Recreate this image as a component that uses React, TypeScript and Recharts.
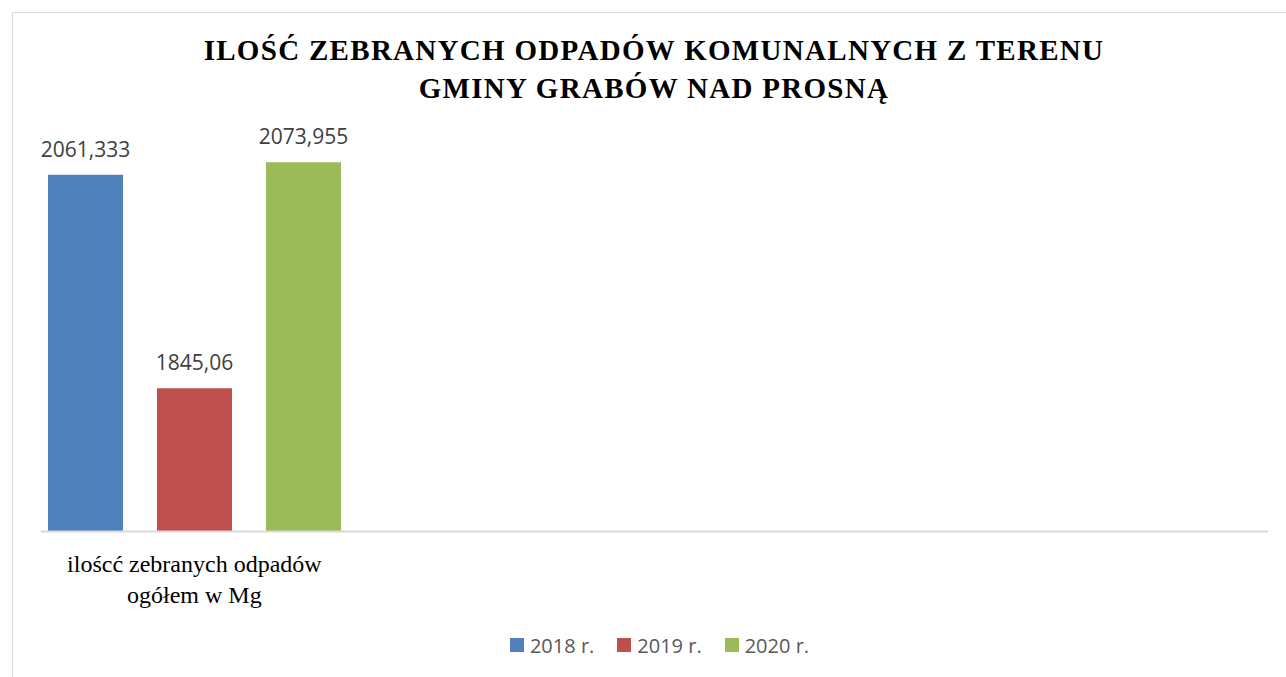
import { BarChart, Bar, XAxis, YAxis, LabelList, Legend } from "recharts";

const categories = ["iloścć zebranych odpadów|ogółem w Mg", "", "", ""];
const seriesNames = ["2018 r.", "2019 r.", "2020 r."];
const values2018 = [2061.333, null, null, null];
const values2019 = [1845.06, null, null, null];
const values2020 = [2073.955, null, null, null];
const COLORS = ["#4F81BD", "#C0504D", "#9BBB59"];

const seriesValues = [values2018, values2019, values2020];

const data = categories.map((name, i) => {
  const row: Record<string, string | number | null> = { name };
  seriesNames.forEach((s, j) => {
    row[s] = seriesValues[j][i];
  });
  return row;
});

const fmt = (v: unknown) =>
  v == null || v === "" ? "" : String(v).replace(".", ",");

const CategoryTick = (props: any) => {
  const { x, y, payload } = props;
  if (!payload.value) return null;
  const lines = String(payload.value).split("|");
  return (
    <text
      x={x}
      y={y}
      textAnchor="middle"
      fill="#000"
      fontFamily="'Liberation Serif', serif"
      fontSize={24}
    >
      {lines.map((l, i) => (
        <tspan key={i} x={x} dy={i === 0 ? 32 : 31}>
          {l}
        </tspan>
      ))}
    </text>
  );
};

const LegendContent = (props: any) => {
  const { payload } = props;
  return (
    <div
      style={{
        display: "flex",
        justifyContent: "center",
        alignItems: "center",
        height: 24,
        paddingLeft: 33,
        fontFamily: "'Open Sans', sans-serif",
        fontSize: 20,
        color: "#595959",
      }}
    >
      {payload.map((p: any, i: number) => (
        <div
          key={i}
          style={{ display: "flex", alignItems: "center", marginRight: i < payload.length - 1 ? 23 : 0 }}
        >
          <span style={{ width: 14, height: 14, background: p.color, marginRight: 6, display: "inline-block" }} />
          <span>{p.value}</span>
        </div>
      ))}
    </div>
  );
};

export default function App() {
  return (
    <div
      style={{
        position: "fixed",
        top: 0,
        left: 0,
        width: 1286,
        height: 677,
        overflow: "hidden",
        background: "#fff",
      }}
    >
      <div
        style={{
          position: "absolute",
          left: 12,
          top: 12,
          width: 1300,
          height: 700,
          border: "1.5px solid #d9d9d9",
        }}
      />
      <div
        style={{
          position: "absolute",
          top: 31,
          left: 0,
          width: 1286,
          paddingLeft: 22,
          boxSizing: "border-box",
          textAlign: "center",
          fontFamily: "'Liberation Serif', serif",
          fontWeight: "bold",
          fontSize: 29,
          letterSpacing: 1.3,
          lineHeight: "38px",
          color: "#000",
        }}
      >
        ILOŚĆ ZEBRANYCH ODPADÓW KOMUNALNYCH Z TERENU
        <br />
        GMINY GRABÓW NAD PROSNĄ
      </div>
      <div style={{ position: "absolute", top: 0, left: 0 }}>
        <BarChart
          width={1286}
          height={677}
          data={data}
          margin={{ top: 136.5, right: 18, left: 41, bottom: 20 }}
          barSize={75}
          barGap={34}
        >
          <XAxis
            dataKey="name"
            height={101.5}
            axisLine={{ stroke: "#d9d9d9", strokeWidth: 2 }}
            tickLine={false}
            tick={<CategoryTick />}
            interval={0}
          />
          <YAxis hide domain={[1700, 2100]} allowDataOverflow />
          <Legend
            verticalAlign="bottom"
            content={<LegendContent />}
            wrapperStyle={{ left: 0, width: 1286, bottom: 20 }}
          />
          {seriesNames.map((s, i) => (
            <Bar key={s} dataKey={s} fill={COLORS[i]} isAnimationActive={false}>
              <LabelList
                dataKey={s}
                position="top"
                offset={18}
                formatter={fmt}
                fill="#404040"
                fontFamily="'Open Sans', sans-serif"
                fontSize={21}
              />
            </Bar>
          ))}
        </BarChart>
      </div>
    </div>
  );
}
